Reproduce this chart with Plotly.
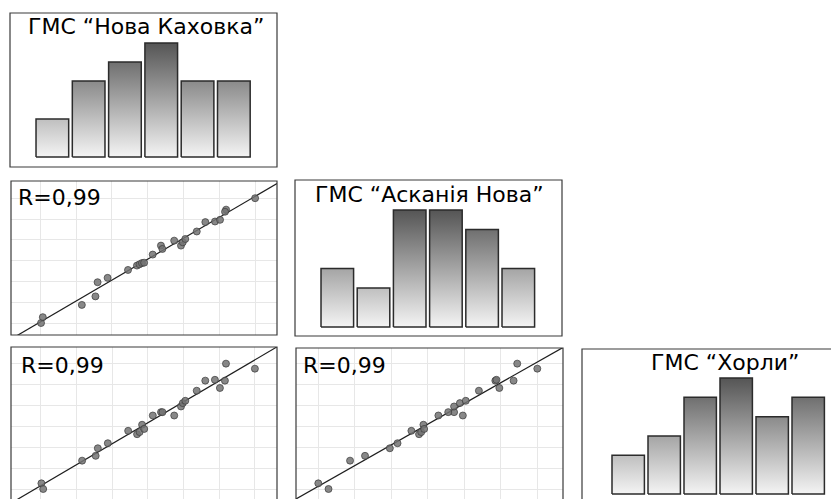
import numpy as np
import plotly.graph_objects as go

# ---------------- data (values in grid units of the scatter panels) ----------------
STATIONS = ['ГМС “Нова Каховка”', 'ГМС “Асканія Нова”', 'ГМС “Хорли”']
NOVA_KAKHOVKA = [0.02, 0.07, 1.16, 1.54, 1.60, 1.88, 2.45, 2.70, 2.77, 2.84, 2.90, 3.14, 3.37,
                 3.41, 3.74, 3.93, 3.98, 4.05, 4.37, 4.61, 4.88, 5.02, 5.19, 5.16, 6.00]
ASKANIA_NOVA = [0.00, 0.28, 0.87, 1.28, 1.96, 2.17, 2.55, 2.76, 2.82, 2.88, 2.90, 3.29, 3.72,
                3.56, 3.96, 3.72, 3.88, 4.04, 4.40, 4.85, 4.88, 4.96, 5.45, 5.35, 6.00]
KHORLY = [0.27, 0.00, 1.35, 1.58, 1.94, 2.18, 2.77, 2.61, 2.71, 3.06, 2.86, 3.50, 3.66,
          3.66, 3.50, 3.93, 4.09, 4.20, 4.68, 5.16, 5.20, 4.81, 5.97, 5.16, 5.73]
BIN_EDGES = [0, 1, 2, 3, 4, 5, 6]
R_LABELS = ['R=0,99', 'R=0,99', 'R=0,99']

# ---------------- layout (window pixels) ----------------
WIN_W, WIN_H = 839, 499
OFF = 8                      # default page body margin
W, H = WIN_W - OFF, WIN_H - OFF
FONT = 'DejaVu Sans'

# histogram panels: box (x0, y0, x1, y1), pixel of bin edge 0, px per bin, pixel of count 0, px per count
HIST = [
    dict(box=(10, 13, 277, 167), e0=34.2, xu=36.3, c0=157, yu=19.0, title=(145.5, 26.5)),
    dict(box=(295, 180, 562, 336), e0=319.2, xu=36.2, c0=327, yu=19.5, title=(429.5, 194.5)),
    dict(box=(582, 349, 849, 505), e0=610.2, xu=36.0, c0=494, yu=19.33, title=(724.5, 362.5)),
]
# scatter panels: box, pixel of value 0 on x, px per unit x, pixel of value 0 on y, px per unit y
SCAT = [
    dict(box=(11, 181, 277, 335), x0=40.3, xu=35.8, y0=323, yu=20.8, r=(18, 198)),
    dict(box=(11, 347, 277, 503), x0=40.7, xu=35.7, y0=489, yu=21.0, r=(21, 365.5)),
    dict(box=(296, 348, 563, 504), x0=318.3, xu=36.5, y0=489, yu=21.0, r=(303, 365.5)),
]


def px(v):
    return v - OFF


def x_axis(box, v0, unit):
    a, b = max(px(box[0]), 0), min(px(box[2]), W)
    return [a / W, b / W], [(a - px(v0)) / unit, (b - px(v0)) / unit]


def y_axis(box, v0, unit):
    a, b = max(px(box[1]), 0), min(px(box[3]), H)
    return [1 - b / H, 1 - a / H], [(px(v0) - b) / unit, (px(v0) - a) / unit]


fig = go.Figure()
layout_axes = {}
shapes = []
annotations = []

series = [NOVA_KAKHOVKA, ASKANIA_NOVA, KHORLY]
counts_all = [np.histogram(s, bins=BIN_EDGES)[0] for s in series]
cmax = max(int(c.max()) for c in counts_all)

# order of subplots: hist NK, scatter NK-AN, hist AN, scatter NK-KH, scatter AN-KH, hist KH
panels = [('h', 0), ('s', (0, 1, 0)), ('h', 1), ('s', (0, 2, 1)), ('s', (1, 2, 2)), ('h', 2)]

for k, (kind, info) in enumerate(panels, start=1):
    xa = 'x' if k == 1 else f'x{k}'
    ya = 'y' if k == 1 else f'y{k}'
    xname = 'xaxis' if k == 1 else f'xaxis{k}'
    yname = 'yaxis' if k == 1 else f'yaxis{k}'
    if kind == 'h':
        p = HIST[info]
        xd, xr = x_axis(p['box'], p['e0'], p['xu'])
        yd, yr = y_axis(p['box'], p['c0'], p['yu'])
        counts = counts_all[info]
        inset = 0.05
        xs, ys = [], []
        for i, c in enumerate(counts):
            l, r = BIN_EDGES[i] + inset, BIN_EDGES[i + 1] - inset
            xs += [l, l, r, r, l, None]
            ys += [0, c, c, 0, 0, None]
        fig.add_trace(go.Scatter(
            x=xs, y=ys, mode='lines', fill='toself',
            line=dict(color='#2b2b2b', width=1.5),
            fillgradient=dict(type='vertical', colorscale=[[0, '#f4f4f4'], [1, '#555555']],
                              start=0, stop=cmax),
            hoverinfo='skip', showlegend=False, xaxis=xa, yaxis=ya))
        common = dict(showgrid=False, zeroline=False, showticklabels=False, ticks='',
                      showline=False, fixedrange=True)
        layout_axes[xname] = dict(domain=xd, range=xr, anchor=ya, **common)
        layout_axes[yname] = dict(domain=yd, range=yr, anchor=xa, **common)
        box = p['box']
        tx, ty = p['title']
        annotations.append(dict(text=STATIONS[info], xref='paper', yref='paper',
                                x=px(tx) / W, y=1 - px(ty) / H, xanchor='center', yanchor='middle',
                                showarrow=False, font=dict(family=FONT, size=22, color='#000000')))
    else:
        ix, iy, si = info
        p = SCAT[si]
        xd, xr = x_axis(p['box'], p['x0'], p['xu'])
        yd, yr = y_axis(p['box'], p['y0'], p['yu'])
        xv = np.array(series[ix])
        yv = np.array(series[iy])
        slope, icpt = np.polyfit(xv, yv, 1)
        lx = np.array([xr[0], xr[1]])
        fig.add_trace(go.Scatter(
            x=lx, y=slope * lx + icpt, mode='lines',
            line=dict(color='#1e1e1e', width=1.2),
            hoverinfo='skip', showlegend=False, xaxis=xa, yaxis=ya))
        fig.add_trace(go.Scatter(
            x=xv, y=yv, mode='markers',
            marker=dict(size=7, color='rgba(115,115,115,0.85)',
                        line=dict(color='rgba(60,60,60,0.9)', width=0.8)),
            hoverinfo='skip', showlegend=False, xaxis=xa, yaxis=ya))
        common = dict(showgrid=True, gridcolor='#e7e7e7', gridwidth=1.3, dtick=1, tick0=0,
                      zeroline=False, showticklabels=False, ticks='', showline=False,
                      fixedrange=True)
        layout_axes[xname] = dict(domain=xd, range=xr, anchor=ya, **common)
        layout_axes[yname] = dict(domain=yd, range=yr, anchor=xa, **common)
        box = p['box']
        rx, ry = p['r']
        annotations.append(dict(text=R_LABELS[si], xref='paper', yref='paper',
                                x=px(rx) / W, y=1 - px(ry) / H, xanchor='left', yanchor='middle',
                                xshift=-2, showarrow=False,
                                font=dict(family=FONT, size=22, color='#000000')))
    shapes.append(dict(type='rect', xref='paper', yref='paper',
                       x0=px(box[0]) / W, x1=px(box[2]) / W,
                       y0=1 - px(box[3]) / H, y1=1 - px(box[1]) / H,
                       line=dict(color='#3a3a3a', width=1.2), fillcolor='rgba(0,0,0,0)',
                       layer='above'))

fig.update_layout(
    width=W, height=H, autosize=False,
    margin=dict(l=0, r=0, t=0, b=0, pad=0),
    paper_bgcolor='#ffffff', plot_bgcolor='#ffffff',
    shapes=shapes, annotations=annotations,
    showlegend=False,
    **layout_axes,
)

fig.write_html('out.html', config=dict(displayModeBar=False))
